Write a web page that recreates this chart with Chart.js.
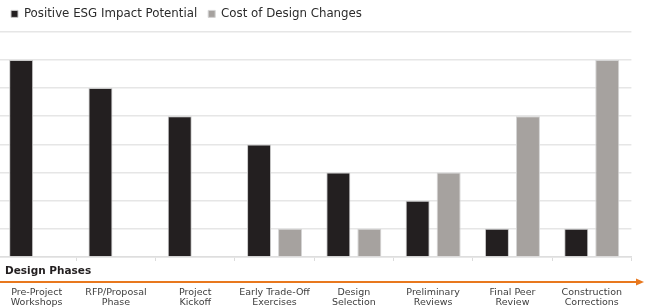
<!DOCTYPE html>
<html>
<head>
<meta charset="utf-8">
<script src="https://cdn.jsdelivr.net/npm/chart.js@4.4.1/dist/chart.umd.min.js"></script>
<style>
  html, body { margin: 0; padding: 0; background: #ffffff; overflow: hidden; }
  #wrap { width: 646px; height: 308px; overflow: hidden; position: relative; }
  #c { position: absolute; left: -3px; top: 0; }
</style>
</head>
<body>
<div id="wrap"><canvas id="c" width="649" height="308"></canvas></div>
<script>
// ---- data ----
const phases = [
  ["Pre-Project", "Workshops"],
  ["RFP/Proposal", "Phase"],
  ["Project", "Kickoff"],
  ["Early Trade-Off", "Exercises"],
  ["Design", "Selection"],
  ["Preliminary", "Reviews"],
  ["Final Peer", "Review"],
  ["Construction", "Corrections"]
];
const esgImpact = [7, 6, 5, 4, 3, 2, 1, 1];
const designChangeCost = [0, 0, 0, 1, 1, 3, 5, 7];
const seriesNames = ["Positive ESG Impact Potential", "Cost of Design Changes"];
const axisTitle = "Design Phases";

const FONT = "'DejaVu Sans', 'Liberation Sans', sans-serif";
const SHIFT = 3; // canvas is shifted 3px left on the page

const legendNudge = {
  id: 'legendNudge',
  beforeDraw(chart) {
    if (chart.legend) { chart.legend.left = SHIFT; chart.legend.top = -3; }
  }
};

const phaseArrow = {
  id: 'phaseArrow',
  afterDraw(chart) {
    const ctx = chart.ctx;
    const y = chart.scales.x.bottom - 26;
    ctx.save();
    ctx.fillStyle = '#231f20';
    ctx.font = "bold 10.5px " + FONT;
    ctx.textBaseline = 'middle';
    ctx.textAlign = 'left';
    ctx.fillText(axisTitle, 5 + SHIFT, y - 11);
    ctx.strokeStyle = '#e8781e';
    ctx.fillStyle = '#e8781e';
    ctx.lineWidth = 2;
    ctx.beginPath();
    ctx.moveTo(0, y);
    ctx.lineTo(638 + SHIFT, y);
    ctx.stroke();
    ctx.beginPath();
    ctx.moveTo(644 + SHIFT, y);
    ctx.lineTo(636 + SHIFT, y - 3.5);
    ctx.lineTo(636 + SHIFT, y + 3.5);
    ctx.closePath();
    ctx.fill();
    ctx.restore();
  }
};

new Chart(document.getElementById('c'), {
  type: 'bar',
  data: {
    labels: phases,
    datasets: [
      {
        label: seriesNames[0],
        data: esgImpact,
        backgroundColor: '#231f20',
        borderColor: '#c9c9c9',
        borderWidth: 1,
        categoryPercentage: 0.782,
        barPercentage: 0.774
      },
      {
        label: seriesNames[1],
        data: designChangeCost,
        backgroundColor: '#a6a29f',
        borderColor: '#d4d4d4',
        borderWidth: 1,
        categoryPercentage: 0.782,
        barPercentage: 0.774
      }
    ]
  },
  options: {
    responsive: false,
    animation: false,
    devicePixelRatio: 1,
    layout: { padding: { left: 0, right: 14.6, top: -1, bottom: 0 } },
    plugins: {
      legend: {
        position: 'top',
        align: 'start',
        labels: {
          boxWidth: 7,
          boxHeight: 7,
          padding: 11,
          color: '#2b2b2b',
          font: { family: FONT, size: 11.8 }
        }
      },
      tooltip: { enabled: false }
    },
    scales: {
      x: {
        type: 'category',
        offset: true,
        grid: {
          display: true,
          offset: true,
          drawOnChartArea: false,
          drawTicks: true,
          tickLength: 4,
          color: '#dcdcdc'
        },
        border: { display: true, color: '#dedede', width: 1.5 },
        ticks: {
          autoSkip: false,
          maxRotation: 0,
          minRotation: 0,
          padding: 26,
          color: '#3d3d3d',
          font: { family: FONT, size: 9.5, lineHeight: 1.1 }
        },
        afterFit(scale) {
          scale.height = 51;
          scale.paddingLeft = 0;
          scale.paddingRight = 0;
        }
      },
      y: {
        min: 0,
        max: 8,
        ticks: { display: false, stepSize: 1 },
        grid: { color: '#e6e6e6', lineWidth: 1.5, drawTicks: false },
        border: { display: false }
      }
    }
  },
  plugins: [legendNudge, phaseArrow]
});
</script>
</body>
</html>
